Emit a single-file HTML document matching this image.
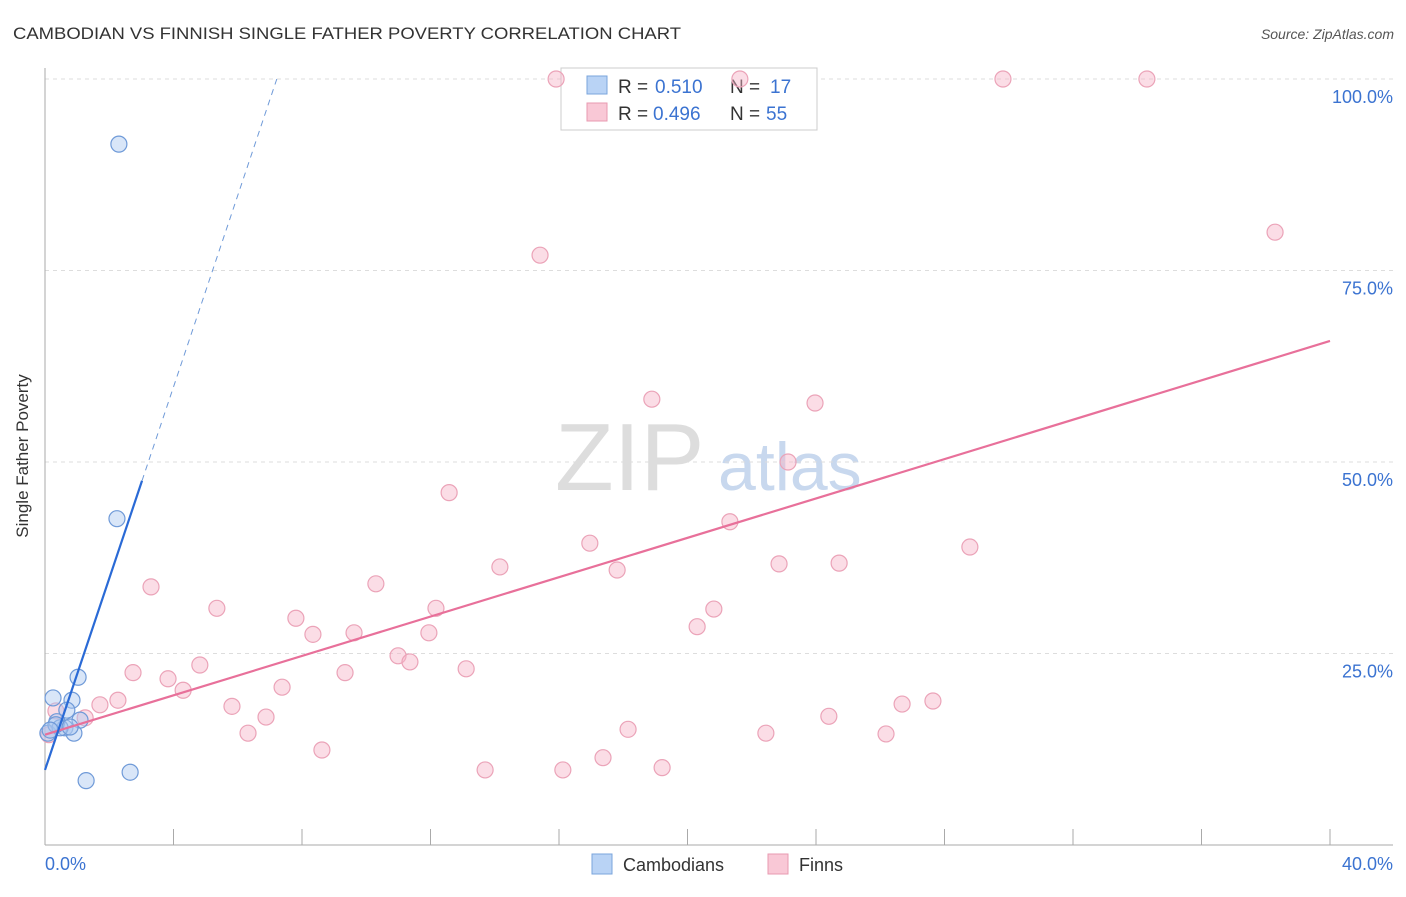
<!DOCTYPE html>
<html><head><meta charset="utf-8"><style>
body{margin:0;background:#fff;font-family:"Liberation Sans",sans-serif}
text{font-family:"Liberation Sans",sans-serif}
</style></head><body>
<svg id="chart" width="1406" height="892">
<text x="13" y="39" font-size="17" fill="#333" textLength="668" lengthAdjust="spacingAndGlyphs">CAMBODIAN VS FINNISH SINGLE FATHER POVERTY CORRELATION CHART</text>
<text x="1394" y="39" font-size="14" fill="#555" text-anchor="end" font-style="italic">Source: ZipAtlas.com</text>
<text x="28" y="456" font-size="17" fill="#333" text-anchor="middle" transform="rotate(-90 28 456)">Single Father Poverty</text>
<text x="555" y="490" font-size="96" fill="#ddd" font-family="Liberation Serif">ZIP</text>
<text x="718" y="490" font-size="68" fill="#c8d8ee">atlas</text>
<g id="grid"></g><g id="axes"></g>
<g>
<rect x="561" y="68" width="256" height="62" fill="#fff" stroke="#ccc"/>
<rect x="587" y="76" width="20" height="18" fill="#b9d3f5" stroke="#7aa4dc"/>
<rect x="587" y="103" width="20" height="18" fill="#f9c8d6" stroke="#e89ab0"/>
<text x="618" y="93" font-size="19" fill="#333">R =</text>
<text x="655" y="93" font-size="19" fill="#3b73d1">0.510</text>
<text x="730" y="93" font-size="19" fill="#333">N =</text>
<text x="770" y="93" font-size="19" fill="#3b73d1">17</text>
<text x="618" y="120" font-size="19" fill="#333">R =</text>
<text x="653" y="120" font-size="19" fill="#3b73d1">0.496</text>
<text x="730" y="120" font-size="19" fill="#333">N =</text>
<text x="766" y="120" font-size="19" fill="#3b73d1">55</text>
</g>
<g id="pts"></g><g id="lines"></g>
<g>
<rect x="592" y="854" width="20" height="20" fill="#b9d3f5" stroke="#7aa4dc"/>
<text x="623" y="871" font-size="18" fill="#333">Cambodians</text>
<rect x="768" y="854" width="20" height="20" fill="#f9c8d6" stroke="#e89ab0"/>
<text x="799" y="871" font-size="18" fill="#333">Finns</text>
</g>
</svg>
<script>
const yTicks=[100,75,50,25];
const yTickLabels=["100.0%","75.0%","50.0%","25.0%"];
const xTicks=[0,4,8,12,16,20,24,28,32,36,40];
const blueX=[2.30,2.24,1.03,0.25,0.84,0.68,0.37,1.09,0.62,0.90,0.09,0.47,1.28,2.65,0.34,0.16,0.78];
const blueY=[91.5,42.6,21.9,19.2,18.9,17.6,16.1,16.3,15.3,14.6,14.6,15.3,8.4,9.5,15.7,15.0,15.4];
const pinkX=[15.91,21.63,29.82,34.30,38.29,15.41,18.89,23.97,23.13,12.58,21.32,16.96,28.79,17.81,14.16,22.85,24.72,3.30,10.30,5.35,12.17,20.82,7.81,8.34,9.62,11.95,20.30,10.99,11.36,2.74,4.82,9.34,13.11,3.83,4.30,7.38,2.27,1.71,5.82,6.88,1.25,0.34,0.12,6.32,8.62,18.15,22.44,24.40,26.68,27.64,26.18,13.70,16.12,17.37,19.21];
const pinkY=[100,100,100,100,80.0,77.0,58.2,57.7,50.0,46.0,42.2,39.4,38.9,35.9,36.3,36.7,36.8,33.7,34.1,30.9,30.9,30.8,29.6,27.5,27.7,27.7,28.5,24.7,23.9,22.5,23.5,22.5,23.0,21.7,20.2,20.6,18.9,18.3,18.1,16.7,16.6,17.5,14.4,14.6,12.4,15.1,14.6,16.8,18.4,18.8,14.5,9.8,9.8,11.4,10.1];
const blueTrend=[9.8,12.5];
const pinkTrend=[14.4,1.285];
const X=v=>45+v/40*1285, Y=v=>845-v*7.66;
const NS="http://www.w3.org/2000/svg";
function mk(p,t,a){const e=document.createElementNS(NS,t);for(const k in a)e.setAttribute(k,a[k]);document.getElementById(p).appendChild(e);return e;}
yTicks.forEach((t,i)=>{
 const l=mk('grid','line',{x1:45,x2:1393,y1:Y(t),y2:Y(t),stroke:'#ddd','stroke-dasharray':'4,4'});
 
 
 const tx=mk('grid','text',{x:1393,y:Y(t)+24,'font-size':18,fill:'#3b73d1','text-anchor':'end'});
 tx.textContent=yTickLabels[i];
 
 
});
mk('axes','line',{x1:45,x2:45,y1:68,y2:845,stroke:'#aaa'});
mk('axes','line',{x1:45,x2:1393,y1:845,y2:845,stroke:'#aaa'});
xTicks.forEach(t=>{const l=mk('axes','line',{x1:X(t),x2:X(t),y1:829,y2:845,stroke:'#aaa'});
 
 });
const x0=mk('axes','text',{x:45,y:870,'font-size':18,fill:'#3b73d1'});x0.textContent='0.0%';


const x1=mk('axes','text',{x:1393,y:870,'font-size':18,fill:'#3b73d1','text-anchor':'end'});x1.textContent='40.0%';


pinkX.forEach((v,i)=>{const c=mk('pts','circle',{cx:X(v),cy:Y(pinkY[i]),r:8,fill:'rgba(246,180,200,0.45)',stroke:'#eba3b8','stroke-width':1.2});
 
 });
blueX.forEach((v,i)=>{const c=mk('pts','circle',{cx:X(v),cy:Y(blueY[i]),r:8,fill:'rgba(170,200,240,0.45)',stroke:'#6f9ad8','stroke-width':1.2});
 
 });
const pl=mk('lines','line',{x1:X(0),y1:Y(pinkTrend[0]),x2:X(40),y2:Y(pinkTrend[0]+pinkTrend[1]*40),stroke:'#e8709a','stroke-width':2.2});


const bs=mk('lines','line',{x1:X(0),y1:Y(blueTrend[0]),x2:X(3.02),y2:Y(blueTrend[0]+blueTrend[1]*3.02),stroke:'#2a6ad6','stroke-width':2.2});


const xe=(100-blueTrend[0])/blueTrend[1];
const bd=mk('lines','line',{x1:X(3.02),y1:Y(blueTrend[0]+blueTrend[1]*3.02),x2:X(xe),y2:Y(100),stroke:'#6f9ad8','stroke-width':1,'stroke-dasharray':'6,5'});


</script>
</body></html>
